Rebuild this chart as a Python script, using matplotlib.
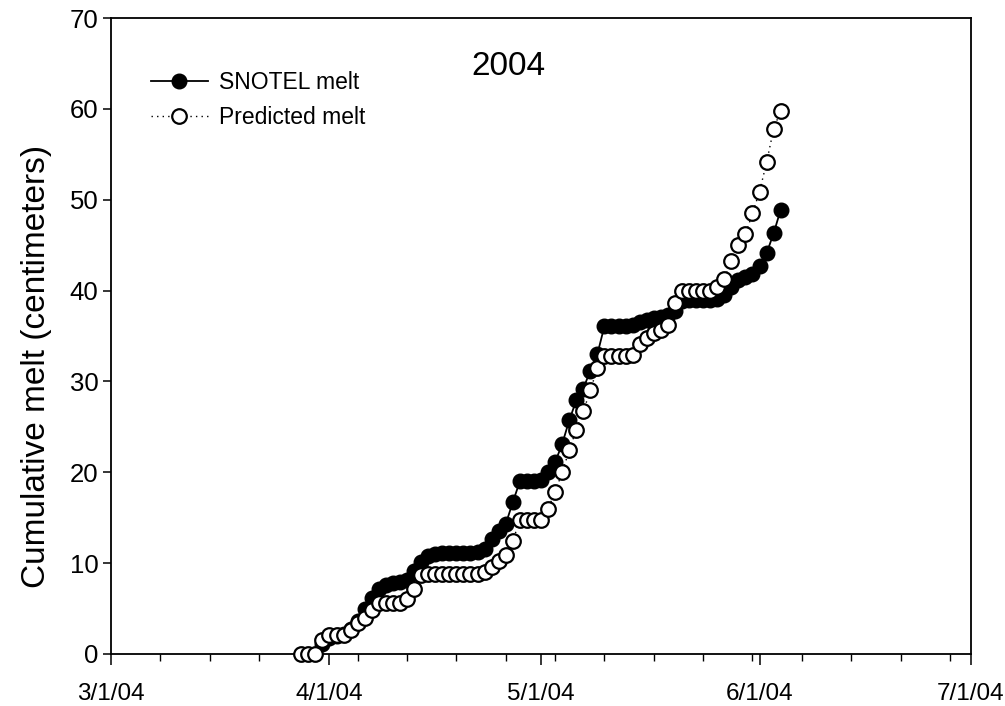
import numpy as np
import pandas as pd
import matplotlib
matplotlib.use("Agg")
import matplotlib.pyplot as plt
import matplotlib.dates as mdates

plt.rcParams['font.family'] = ['Liberation Sans', 'DejaVu Sans']

# daily cumulative melt (cm)
snotel_start = '2004-03-31'
snotel_melt = [1.1, 1.8, 2.0, 2.2, 2.8, 3.6, 5.0, 6.2, 7.2, 7.6,
               7.8, 7.9, 8.1, 9.1, 10.1, 10.8, 11.0, 11.1, 11.1, 11.1,
               11.1, 11.1, 11.2, 11.6, 12.7, 13.5, 14.3, 16.7, 19.0, 19.0,
               19.0, 19.1, 20.0, 21.1, 23.1, 25.7, 27.9, 29.2, 31.2, 33.0,
               36.1, 36.1, 36.1, 36.1, 36.2, 36.5, 36.8, 37.0, 37.1, 37.3,
               37.8, 38.9, 39.0, 39.0, 39.0, 39.0, 39.1, 39.5, 40.4, 41.2,
               41.5, 41.8, 42.7, 44.1, 46.3, 48.9]

pred_start = '2004-03-28'
pred_melt = [0.0, 0.0, 0.0, 1.5, 2.1, 2.1, 2.1, 2.6, 3.4, 4.0,
             4.8, 5.6, 5.6, 5.6, 5.6, 6.1, 7.2, 8.7, 8.8, 8.8,
             8.8, 8.8, 8.8, 8.8, 8.8, 8.8, 9.0, 9.6, 10.2, 10.9,
             12.4, 14.8, 14.8, 14.8, 14.8, 16.0, 17.8, 20.0, 22.4, 24.7,
             26.7, 29.0, 31.5, 32.8, 32.8, 32.8, 32.8, 32.9, 34.1, 34.8,
             35.3, 35.7, 36.2, 38.6, 40.0, 40.0, 40.0, 40.0, 40.0, 40.4,
             41.3, 43.2, 45.0, 46.2, 48.5, 50.9, 54.1, 57.8, 59.8]

snotel_dates = pd.date_range(snotel_start, periods=len(snotel_melt), freq='D')
pred_dates = pd.date_range(pred_start, periods=len(pred_melt), freq='D')

fig = plt.figure(figsize=(10.05, 7.06), dpi=100)
ax = fig.add_axes([0.1104, 0.0737, 0.8558, 0.9008])

ax.plot(snotel_dates, snotel_melt, color='black', linewidth=1.3, marker='o',
        markersize=10.5, markerfacecolor='black', markeredgecolor='black',
        label='SNOTEL melt', zorder=3, clip_on=False)
ax.plot(pred_dates, pred_melt, color='black', linewidth=1.0,
        linestyle=(0, (1, 3)), marker='o', markersize=10.5,
        markerfacecolor='white', markeredgecolor='black', markeredgewidth=1.6,
        label='Predicted melt', zorder=4, clip_on=False)

ax.set_xlim(pd.Timestamp('2004-03-01'), pd.Timestamp('2004-07-01'))
ax.set_ylim(0, 70)
ax.set_yticks(np.arange(0, 71, 10))

ax.xaxis.set_major_locator(mdates.MonthLocator())
ax.xaxis.set_minor_locator(mdates.WeekdayLocator(byweekday=mdates.MO))
ax.xaxis.set_major_formatter(
    plt.FuncFormatter(lambda v, p: (lambda d: f"{d.month}/{d.day}/{d:%y}")(mdates.num2date(v))))

ax.tick_params(axis='x', which='major', direction='out', length=8, width=1.1,
               labelsize=17.5, pad=13)
ax.tick_params(axis='x', which='minor', direction='out', length=5, width=1.0)
ax.tick_params(axis='y', which='major', direction='out', length=6, width=1.1,
               labelsize=18.5, pad=3)
for s in ax.spines.values():
    s.set_linewidth(1.3)

ax.set_ylabel('Cumulative melt (centimeters)', fontsize=24)
ax.yaxis.set_label_coords(-0.069, 0.452)

ax.text(0.4616, 0.924, '2004', transform=ax.transAxes, fontsize=24,
        ha='center', va='center')

ax.legend(loc='upper left', bbox_to_anchor=(0.047, 0.917), frameon=False,
          fontsize=16.5, handlelength=2.45, handletextpad=0.5,
          labelspacing=0.55, borderpad=0, borderaxespad=0)

fig.savefig('out.png', dpi=100)
